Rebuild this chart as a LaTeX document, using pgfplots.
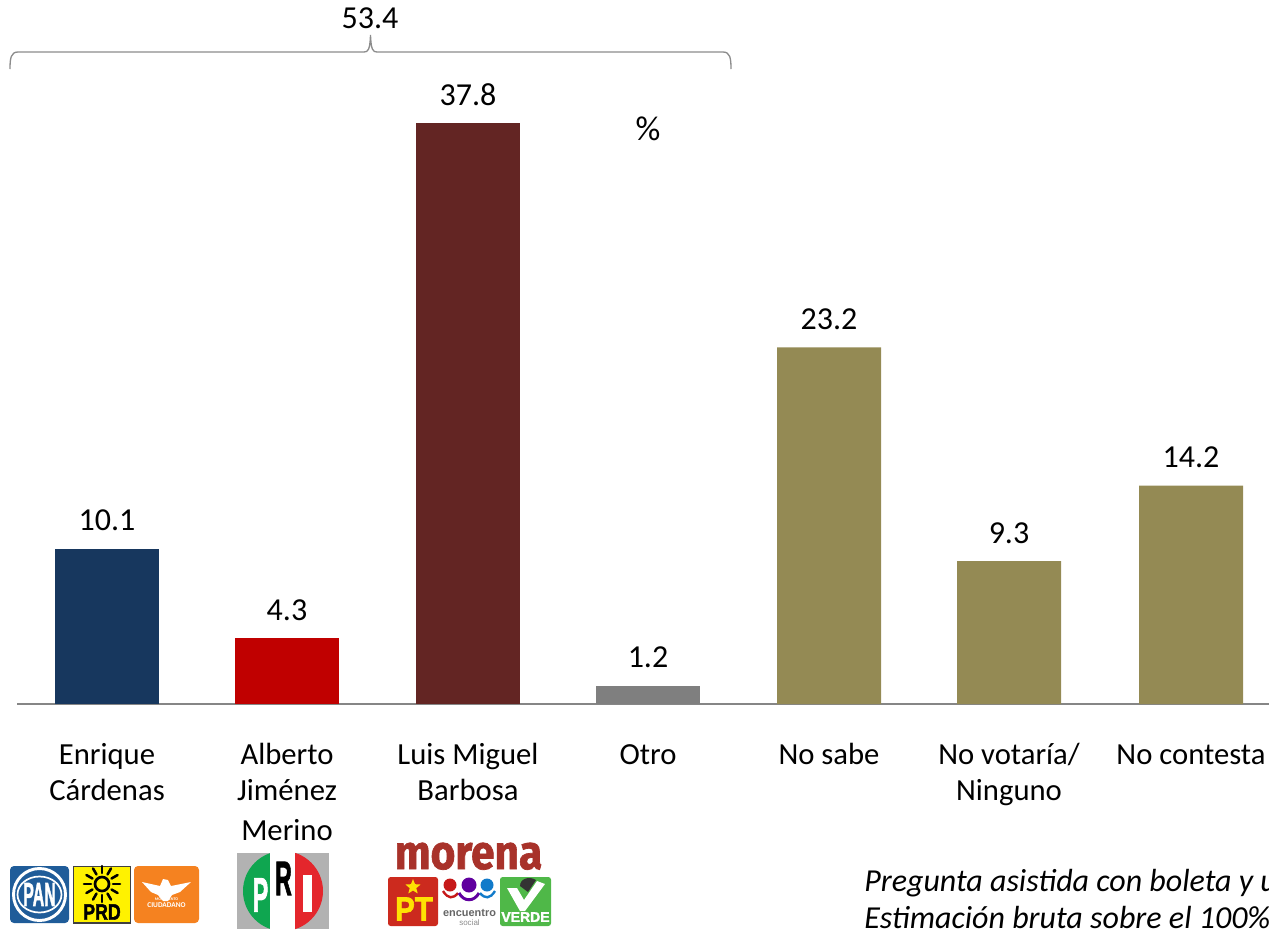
\documentclass[border=0pt]{standalone}
\usepackage{graphicx}
\usepackage{fontspec}
\setmainfont{Carlito}
\newfontfamily\hv{Liberation Sans}
\newfontfamily\hvf[UprightFont=* Bold,FakeBold=2]{Liberation Sans}
\newfontfamily\firaf[UprightFont=* Bold,FakeBold=1.5]{Fira Sans}
\usepackage{pgfplots}
\pgfplotsset{compat=1.18}
\usetikzlibrary{shapes.geometric}
\definecolor{navybar}{HTML}{17375E}
\definecolor{redbar}{HTML}{C00000}
\definecolor{maroonbar}{HTML}{632523}
\definecolor{graybar}{HTML}{7F7F7F}
\definecolor{olivebar}{HTML}{948A54}
\definecolor{axisgray}{HTML}{868686}
\definecolor{brace}{HTML}{8C8C8C}
\definecolor{panblue}{HTML}{1F5C99}
\definecolor{mcorange}{HTML}{F58220}
\definecolor{prigreen}{HTML}{0FA650}
\definecolor{prired}{HTML}{E4262C}
\definecolor{morenared}{HTML}{A8322A}
\definecolor{ptred}{HTML}{CC2A1E}
\definecolor{verde}{HTML}{4FB848}
\newcommand\st{\rule{0pt}{19pt}}
\begin{document}
\fontsize{23}{27}\selectfont
\begin{tikzpicture}[x=0.75pt,y=-0.75pt]
\path[use as bounding box,clip] (0,0) rectangle (1269,929);
\begin{axis}[
  at={(12.75pt,-528pt)},anchor=south west,
  scale only axis,width=939pt,height=528pt,
  xmin=17,xmax=1269,ymin=0,ymax=45.8,
  axis x line=bottom,axis y line=none,
  axis line style={draw=axisgray,line width=1.1pt,-},
  ybar,bar shift=0pt,bar width=78pt,
  xtick={107,287,468,648,829,1009,1191},
  xticklabels={\st Enrique\\Cárdenas,\st Alberto\\Jiménez\\[3pt]Merino,\st Luis Miguel\\Barbosa,\st Otro,\st No sabe,\st No votaría/\\Ninguno,\st No contesta},
  xtick style={draw=none},
  xticklabel style={align=center,font=\fontsize{23}{27}\selectfont,yshift=-22pt,inner sep=0pt},
  nodes near coords,
  nodes near coords style={font=\fontsize{24}{24}\selectfont,/pgf/number format/fixed,/pgf/number format/zerofill,/pgf/number format/precision=1,/pgf/number format/assume math mode=true,inner sep=0pt,yshift=13pt,anchor=south},
  clip=false,
]
\addplot[fill=navybar,draw=none] coordinates {(107,10.1)};
\addplot[fill=redbar,draw=none] coordinates {(287,4.3)};
\addplot[fill=maroonbar,draw=none] coordinates {(468,37.8)};
\addplot[fill=graybar,draw=none] coordinates {(648,1.2)};
\addplot[fill=olivebar,draw=none] coordinates {(829,23.2) (1009,9.3) (1191,14.2)};
\end{axis}
% percent and bracket
\node[font=\fontsize{26}{26}\selectfont] at (648,129) {\%};
\node[font=\fontsize{24}{24}\selectfont] at (370,18) {53.4};
\draw[brace,line width=1pt] (10,69) .. controls (10,58) and (11,52) .. (18,52) -- (364,52) .. controls (368,52) and (370,50) .. (370.5,35)
  .. controls (371,50) and (373,52) .. (377,52) -- (723,52) .. controls (730,52) and (731,58) .. (731,69);
% note text
\node[anchor=base west,inner sep=0pt,font=\fontsize{24}{24}\selectfont] at (864,891) {\itshape Pregunta asistida con boleta y urna};
\node[anchor=base west,inner sep=0pt,font=\fontsize{24}{24}\selectfont] at (864,928) {\itshape Estimación bruta sobre el 100\%};
% PAN
\fill[panblue,rounded corners=3pt] (10,866) rectangle (69,923);
\draw[white,line width=2.2pt] (39.5,894.5) circle [radius=26];
\draw[white,line width=1.3pt] (39.5,894.5) ellipse [x radius=22,y radius=18];
\node[white,inner sep=0pt] at (39.5,894.5) {\hvf\scalebox{0.6}[1.25]{\fontsize{20}{20}\selectfont PAN}};
% PRD
\fill[yellow] (73.5,866.5) rectangle (130.5,923);
\draw[black!75,line width=1pt] (73.5,866.5) rectangle (130.5,923);
\foreach \a in {0,30,...,330}{
  \draw[black,line width=1.9pt,line cap=round] (102,884)++(\a:11) -- ++(\a:7);
}
\draw[black,line width=2pt] (102,884) circle [radius=7];
\node[black,inner sep=0pt] at (102,912) {\hvf\scalebox{0.95}[1.2]{\fontsize{14}{14}\selectfont PRD}};
% Movimiento Ciudadano
\fill[mcorange,rounded corners=3pt] (134,866) rectangle (199,923);
\fill[white] (142,882) -- (160,886) -- (163,879) -- (168,880) -- (171,886) -- (191,882) -- (180,892) -- (172,895) -- (168,901) -- (163,901) -- (158,895) -- (151,892) -- cycle;
\node[white,inner sep=0pt] at (166.5,899.5) {\bfseries\fontsize{3}{3}\selectfont MOVIMIENTO};
\node[white,inner sep=0pt] at (166.5,905) {\bfseries\fontsize{5.5}{5.5}\selectfont CIUDADANO};
% PRI
\fill[black!30] (237,853) rectangle (329,929);
\begin{scope}
\clip (283,891) circle [radius=40];
\fill[prigreen] (240,850) rectangle (270,932);
\fill[prired] (295,850) rectangle (326,932);
\end{scope}
\fill[white] (270,853) rectangle (295,929);
\node[white,inner sep=0pt] at (260.5,895) {\hvf\scalebox{0.62}[1.3]{\fontsize{28}{28}\selectfont P}};
\node[black,inner sep=0pt] at (283.5,878.5) {\hvf\scalebox{0.62}[1.3]{\fontsize{28}{28}\selectfont R}};
\fill[white] (303,875) rectangle (312,912);
% morena
\node[morenared,anchor=base,inner sep=0pt] at (468.5,869) {\firaf\scalebox{1.06}[1.2]{\fontsize{30}{30}\selectfont morena}};
% PT
\fill[ptred,rounded corners=2pt] (388,877) rectangle (438,926);
\node[star,star points=5,star point ratio=2.3,fill=yellow!85!orange,inner sep=0pt,minimum size=12pt] at (413,887) {};
\node[yellow!85!orange,inner sep=0pt] at (414,909) {\hvf\scalebox{1.05}[1.2]{\fontsize{21}{21}\selectfont PT}};
% encuentro social
\fill[red!75!black!90!white] (450,885) circle [radius=6.5];
\fill[violet!75!blue] (469,885) circle [radius=7.5];
\fill[cyan!60!blue] (487,885) circle [radius=6.5];
\draw[red!75!black!90!white,line width=1.8pt] (443,891) .. controls (448,899) and (453,899) .. (458,893);
\draw[violet!75!blue,line width=2.2pt] (459,893) .. controls (464,902) and (474,902) .. (479,893);
\draw[cyan!60!blue,line width=1.8pt] (480,893) .. controls (485,899) and (490,899) .. (495,891);
\node[black!60,inner sep=0pt] at (469.5,913) {\hv\bfseries\fontsize{8.2}{8}\selectfont encuentro};
\node[black!45,inner sep=0pt] at (469.5,923) {\hv\fontsize{6}{6}\selectfont social};
% Verde
\fill[verde,rounded corners=2pt] (500,877) rectangle (551,926);
\fill[white] (507,888) -- (517,888) -- (524,900) -- (537,881) -- (545,884) -- (525,911) -- (520,911) -- cycle;
\fill[black!80] (520,886) .. controls (520,878) and (530,876) .. (536,880) -- (528,892) -- cycle;
\node[white,inner sep=0pt] at (525.5,917) {\hvf\fontsize{10.5}{10.5}\selectfont VERDE};
\end{tikzpicture}
\end{document}
